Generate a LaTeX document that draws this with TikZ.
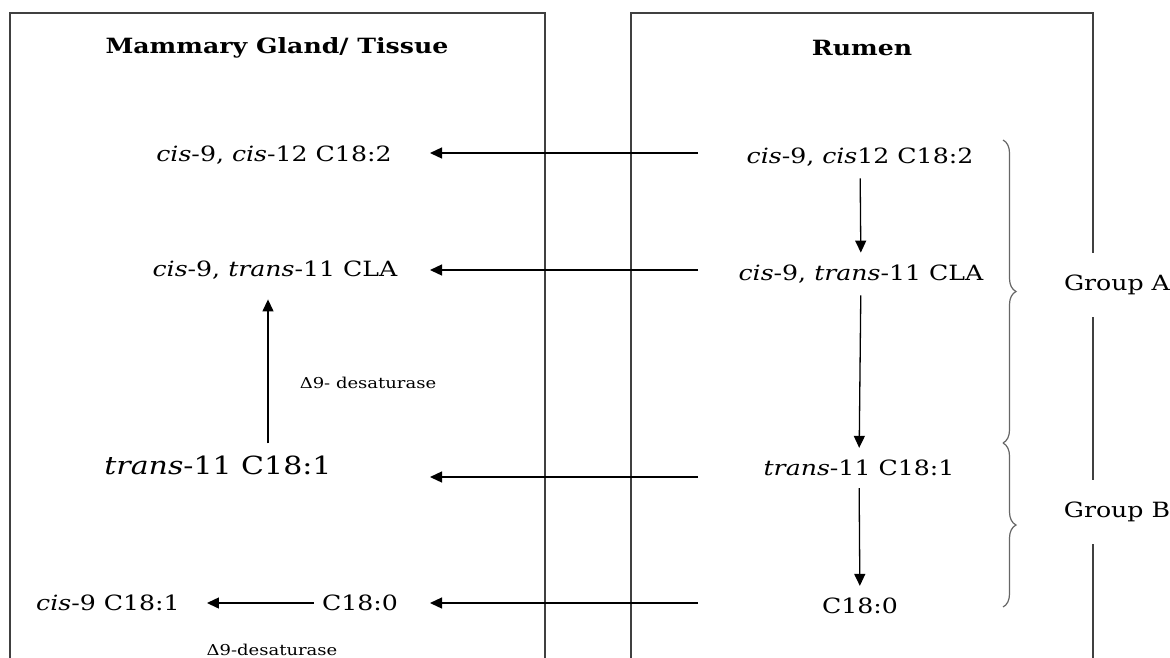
\documentclass[tikz,border=0pt]{standalone}
\usepackage{fontspec}
\setmainfont{DejaVu Serif}[FakeStretch=1.2]
\usetikzlibrary{arrows.meta, decorations.pathreplacing}

\begin{document}
\begin{tikzpicture}[x=1pt,y=-1pt,
	chem/.style={font=\fontsize{21}{25}\selectfont, inner xsep=2pt, inner ysep=12pt},
	head/.style={font=\fontsize{21}{25}\selectfont\bfseries},
	enz/.style={font=\fontsize{15}{18}\selectfont},
	flow/.style={line width=1.3pt, -{Triangle[length=12pt,width=11pt]}},
	panel/.style={line width=2pt, draw=black!75},
	grp/.style={font=\fontsize{21}{25}\selectfont, fill=white, inner xsep=2pt, inner ysep=22pt},
	bracket/.style={draw=black!60, line width=1.2pt, decorate, decoration={brace, amplitude=13pt}}]
		\useasboundingbox (0,0) rectangle (1170,657);
		% Draw the two panels
		\draw[panel] (10,13) rectangle (545,700);
		\draw[panel] (631,13) rectangle (1093,700);
		\node[head] (mgt) at (277,48) {Mammary Gland/ Tissue};
		\node[head] (rum) at (862,48) {Rumen};

		% Rumen side
		\node[chem] (r1) at (860,157) {\textit{cis}-9, \textit{cis}12 C18:2};
		\node[chem] (r2) at (861,274) {\textit{cis}-9, \textit{trans}-11 CLA};
		\node[chem] (r3) at (859,468) {\textit{trans}-11 C18:1};
		\node[chem] (r4) at (860,606) {C18:0};
		\draw[flow] (r1) -- (r2);
		\draw[flow] (r2) -- (r3);
		\draw[flow] (r3) -- (r4);

		% Mammary gland side
		\node[chem] (l1) at (274,155) {\textit{cis}-9, \textit{cis}-12 C18:2};
		\node[chem] (l2) at (275,270) {\textit{cis}-9, \textit{trans}-11 CLA};
		\node[chem, font=\fontsize{25}{29}\selectfont] (l3) at (218,465) {\textit{trans}-11 C18:1};
		\node[chem] (l4) at (360,603) {C18:0};
		\node[chem] (l5) at (108,603) {\textit{cis}-9 C18:1};
		\draw[flow, shorten >=8pt] ([xshift=50pt]l3.north) -- ([xshift=50pt]l3.north |- l2.south);
		\node[enz] (d1) at (368,383) {Δ9- desaturase};
		\draw[flow, shorten <=6pt, shorten >=25pt] (l4) -- (l5);
		\node[enz] (d2) at (272,650) {Δ9-desaturase};

		% Transfer from rumen to tissue
		\foreach \n/\y in {1/153,2/270,3/477,4/603}{
			\coordinate (src\n) at (698,\y);
			\coordinate (dst\n) at (430,\y);
			\draw[flow] (src\n) -- (dst\n);
		}

		% Groups
		\coordinate (bA) at (1003,140);
		\coordinate (bM) at (1003,443);
		\coordinate (bB) at (1003,607);
		\draw[bracket] (bA) -- (bM);
		\draw[bracket] (bM) -- (bB);
		\node[grp] (ga) at (1117,285) {Group A};
		\node[grp] (gb) at (1117,512) {Group B};
	\end{tikzpicture}
\end{document}
